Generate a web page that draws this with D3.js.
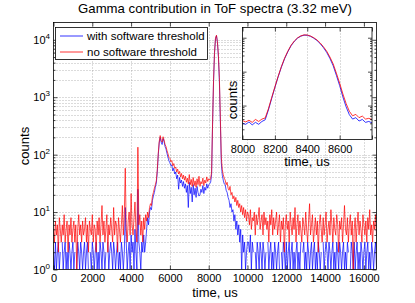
<!DOCTYPE html>
<html><head><meta charset="utf-8">
<script src="https://cdn.jsdelivr.net/npm/d3@7"></script>
<style>
body{margin:0;background:#fff}
svg{display:block;font-family:"Liberation Sans",Arial,Helvetica,sans-serif}
</style>
</head><body><svg id="c" width="415" height="303"></svg>
<script>
// ---------------- data ----------------
const titleText = "Gamma contribution in ToF spectra (3.32 meV)";
const seriesNames = ["with software threshold", "no software threshold"];
const binWidth = 50;          // us, main spectrum bins (t = 0 .. 16650)
const insetStart = 8000, insetBin = 20;   // inset bins (t = 8000 .. 8800)

// counts per 50-us bin, "with software threshold" (blue)
const blueCounts = [
  2,1,3,1,2,3,1,2,0,3, 1,2,3,1,2,1,3,2,1,2, 3,1,2,0,1,3,2,1,3,2,
  1,2,3,1,2,3,1,0,2,1, 3,2,1,2,3,1,2,1,3,2, 1,3,2,1,2,0,3,1,2,3,
  2,1,3,2,1,2,3,1,2,1, 3,2,1,2,12,3,1,2,3,1, 4,2,3,1,5,2,1,25,3,2,
  1,3,2,4,2,3,
  5,8,6,10,12,11,16,19,22,27, 32,50,98,160,200,165,150,190,170,138,
  125,105,90,78,72,64,66,52,58,46, 50,38,44,25,40,32,36,28,34,26,
  31,22,29,12,33,21,27,15,30,20, 26,18,28,22,19,20,25,22,29,21,
  27,24,31,26,30,31,
  33,45,340,1850,5800,10500,11800,9000,5100,1950,390,72,44,36,31,
  30,24,22,18,16,12,14,10,11,7,9,5,7,4,6,3,5,1,4,2,3,1,2,3,
  3,2,4,1,3,2,0,2,1,3, 2,1,3,2,1,3,2,1,2,0, 3,1,2,3,1,2,1,3,2,1,
  2,3,1,0,2,1,3,2,1,3, 1,2,3,1,2,3,1,2,1,2, 3,1,2,1,3,0,2,3,1,2,
  1,3,2,1,2,3,1,2,3,1, 2,1,3,2,1,2,0,3,1,2, 3,2,1,3,2,1,2,3,1,2,
  1,3,2,1,3,2,1,2,3,1, 2,1,3,2,0,1,3,2,1,3, 1,2,3,1,2,1,3,2,1,2,
  3,1,2,3,1,2,1,3,2,1, 2,3,1
];
// counts per 50-us bin, "no software threshold" (red)
const redCounts = [
  5,3,7,4,6,2,8,5,3,6, 4,9,3,5,7,2,6,4,8,3, 5,7,3,6,1,5,9,4,6,3,
  7,4,5,8,3,6,2,7,5,4, 9,3,6,5,2,7,4,8,3,6, 13,4,7,3,5,9,2,6,4,8,
  5,3,12,4,7,6,2,8,5,3, 6,13,4,9,58,5,3,7,10,4, 21,6,4,8,15,5,3,135,6,9,
  4,7,3,8,5,9,
  7,10,8,12,14,13,19,22,26,30, 35,55,105,170,215,175,165,205,180,150,
  138,118,104,90,86,75,79,64,70,58, 61,50,56,46,51,41,47,38,44,36,
  42,33,39,31,45,30,37,28,40,29, 35,27,38,30,42,28,34,31,39,29,
  36,32,41,34,38,36,
  38,50,355,1950,6000,10700,12000,9300,5400,2200,460,90,55,45,39,
  36,30,33,26,24,28,20,22,17,19,15,18,13,16,12,14,10,13,9,12,8,11,7,10,
  9,6,11,5,8,7,10,4,9,6, 8,12,5,7,9,4,10,6,8,5, 7,3,9,6,11,4,8,5,7,10,
  4,6,9,3,7,5,8,2,6,9, 5,7,3,10,6,4,8,5,12,3, 6,9,4,7,5,3,8,6,4,10,
  5,3,7,14,4,6,9,3,5,8, 4,7,2,6,9,5,3,8,4,6, 10,3,5,7,4,11,6,3,8,5,
  4,9,6,2,7,5,8,3,6,13, 5,4,8,3,6,9,4,7,1,5, 8,3,6,10,4,7,5,3,9,6,
  4,7,3,8,5,11,4,6,3,7, 5,9,4
];
// inset: counts per 20-us bin around the gamma peak
const blueInset = [30,28,33,27,32,28,34,38,74,160, 340,700,1350,2400,3850,5800,7800,9700,11100,11900,
  11800,11000,9700,8300,6700,5100,3700,2450,1500,780, 390,180,92,54,40,44,35,39,32,34, 31];
const redInset = [36,33,37,32,39,34,40,43,80,170, 355,720,1400,2500,4000,6000,8000,9900,11300,12100,
  12000,11200,10000,8600,7000,5400,4000,2700,1700,900, 460,220,115,68,50,55,44,49,40,42, 39];

const xTicks = [0,2000,4000,6000,8000,10000,12000,14000,16000];
const yTicks = [1,10,100,1000,10000];
const yTickExp = ["0","1","2","3","4"];
const insetXTicks = [8000,8200,8400,8600,8800];
const insetXLabels = ["8000","8200","8400","8600",""];
const xDomain = [0,16650], yDomain = [1,2e4];
const insetXDomain = [8000,8800], insetYDomain = [10,2e4];

// ---------------- drawing ----------------
const svg = d3.select("#c");
const BLUE = "#0000ff", RED = "#ff0000";
const GRID = "#9a9a9a";
svg.append("rect").attr("width",415).attr("height",303).attr("fill","#fff");

function minorLog(dom){
  const out=[];
  for(let d=Math.pow(10,Math.floor(Math.log10(dom[0]))); d<dom[1]; d*=10)
    for(let k=2;k<=9;k++){const v=k*d; if(v>dom[0]&&v<dom[1]) out.push(v);}
  return out;
}

function panel(opts){
  const {x,y,xt,xl,yt,minor,gridX,gridYMajor,gridYMinor,series,id} = opts;
  const [x0,x1]=x.range(), [y0,y1]=y.range();
  const g = svg.append("g");
  g.append("rect").attr("x",x0).attr("y",y1).attr("width",x1-x0).attr("height",y0-y1).attr("fill","#fff");
  const grid = g.append("g").attr("stroke",GRID).attr("stroke-width",0.7).attr("stroke-dasharray","1,2").attr("fill","none");
  if(gridX) xt.forEach(v=>{const px=Math.round(x(v))+0.5; if(px>x0+1&&px<x1-1) grid.append("line").attr("x1",px).attr("x2",px).attr("y1",y1).attr("y2",y0);});
  if(gridYMajor) yt.forEach(v=>{const py=Math.round(y(v))+0.5; if(py<y0-1&&py>y1+1) grid.append("line").attr("x1",x0).attr("x2",x1).attr("y1",py).attr("y2",py);});
  if(gridYMinor) minor.forEach(v=>{const py=Math.round(y(v))+0.5; grid.append("line").attr("x1",x0).attr("x2",x1).attr("y1",py).attr("y2",py);});
  svg.append("clipPath").attr("id",id).append("rect").attr("x",x0).attr("y",y1).attr("width",x1-x0).attr("height",y0-y1);
  const lg = g.append("g").attr("clip-path",`url(#${id})`);
  series.forEach(s=>{
    const pts = s.values.map((v,i)=>({t:s.start+i*s.step, v}));
    lg.append("path").datum(pts).attr("fill","none").attr("stroke",s.color).attr("stroke-width",s.w)
      .attr("stroke-linejoin","round")
      .attr("d", d3.line().defined(d=>d.v>0).x(d=>x(d.t)).y(d=>y(d.v)));
  });
  // ticks (inward) via d3 axes
  const tk = (sel)=>{sel.select(".domain").remove(); sel.selectAll("line").attr("stroke","#000").attr("stroke-width",0.7);};
  g.append("g").attr("transform",`translate(0,${y0})`).call(d3.axisBottom(x).tickValues(xt).tickSize(-4).tickFormat("")).call(tk);
  g.append("g").attr("transform",`translate(0,${y1})`).call(d3.axisTop(x).tickValues(xt).tickSize(-4).tickFormat("")).call(tk);
  g.append("g").attr("transform",`translate(${x0},0)`).call(d3.axisLeft(y).tickValues(yt).tickSize(-4).tickFormat("")).call(tk);
  g.append("g").attr("transform",`translate(${x1},0)`).call(d3.axisRight(y).tickValues(yt).tickSize(-4).tickFormat("")).call(tk);
  g.append("g").attr("transform",`translate(${x0},0)`).call(d3.axisLeft(y).tickValues(minor).tickSize(-2).tickFormat("")).call(tk);
  g.append("g").attr("transform",`translate(${x1},0)`).call(d3.axisRight(y).tickValues(minor).tickSize(-2).tickFormat("")).call(tk);
  // x tick labels
  const ax = g.append("g").attr("transform",`translate(0,${y0})`)
    .call(d3.axisBottom(x).tickValues(xt).tickSize(0).tickPadding(opts.xPad).tickFormat((d,i)=>xl[i]));
  ax.select(".domain").remove();
  ax.selectAll("text").attr("font-size",opts.tickFs).attr("fill","#000").attr("font-family","Liberation Sans, Arial, sans-serif");
  g.append("rect").attr("x",x0).attr("y",y1).attr("width",x1-x0).attr("height",y0-y1)
    .attr("fill","none").attr("stroke","#000").attr("stroke-width",0.8);
  return g;
}

// main axes
const x = d3.scaleLinear().domain(xDomain).range([53.5,376.5]);
const y = d3.scaleLog().domain(yDomain).range([269.5,22.5]);
panel({x,y,xt:xTicks,xl:xTicks.map(String),yt:yTicks,minor:minorLog(yDomain),
  gridX:true,gridYMajor:true,gridYMinor:true,id:"clipMain",xPad:5,tickFs:11,
  series:[
    {values:blueCounts,start:0,step:binWidth,color:BLUE,w:0.7},
    {values:redCounts,start:0,step:binWidth,color:RED,w:0.7}
  ]});
// y tick labels with exponents
yTicks.forEach((v,i)=>{
  const t = svg.append("text").attr("x",50).attr("y",y(v)+4).attr("text-anchor","end")
    .attr("font-size",11).attr("fill","#000");
  t.append("tspan").text("10");
  t.append("tspan").attr("dy",-5).attr("font-size",8).text(yTickExp[i]);
});
svg.append("text").attr("x",215).attr("y",13).attr("text-anchor","middle").attr("font-size",13.2).text(titleText);
svg.append("text").attr("x",215).attr("y",296.5).attr("text-anchor","middle").attr("font-size",13).text("time, us");
svg.append("text").attr("transform","translate(29,146) rotate(-90)").attr("text-anchor","middle").attr("font-size",13).text("counts");

// legend
const lgd = svg.append("g");
lgd.append("rect").attr("x",55.5).attr("y",27.5).attr("width",152).attr("height",32).attr("fill","#fff").attr("stroke","#000").attr("stroke-width",0.8);
[BLUE,RED].forEach((c,i)=>{
  const yy = 36 + i*16;
  lgd.append("line").attr("x1",60).attr("x2",83).attr("y1",yy).attr("y2",yy).attr("stroke",c).attr("stroke-width",0.8);
  lgd.append("text").attr("x",87).attr("y",yy+4).attr("font-size",11.5).text(seriesNames[i]);
});

// inset axes
const xi = d3.scaleLinear().domain(insetXDomain).range([242.5,372]);
const yi = d3.scaleLog().domain(insetYDomain).range([139.5,27.5]);
panel({x:xi,y:yi,xt:insetXTicks,xl:insetXLabels,yt:[100,1000,10000],minor:minorLog(insetYDomain),
  gridX:true,gridYMajor:false,gridYMinor:false,id:"clipInset",xPad:6,tickFs:11,
  series:[
    {values:blueInset,start:insetStart,step:insetBin,color:BLUE,w:0.8},
    {values:redInset,start:insetStart,step:insetBin,color:RED,w:0.8}
  ]});
svg.append("text").attr("x",307).attr("y",166).attr("text-anchor","middle").attr("font-size",13).text("time, us");
svg.append("text").attr("transform","translate(237,100) rotate(-90)").attr("text-anchor","middle").attr("font-size",13).text("counts");
</script>
</body></html>
